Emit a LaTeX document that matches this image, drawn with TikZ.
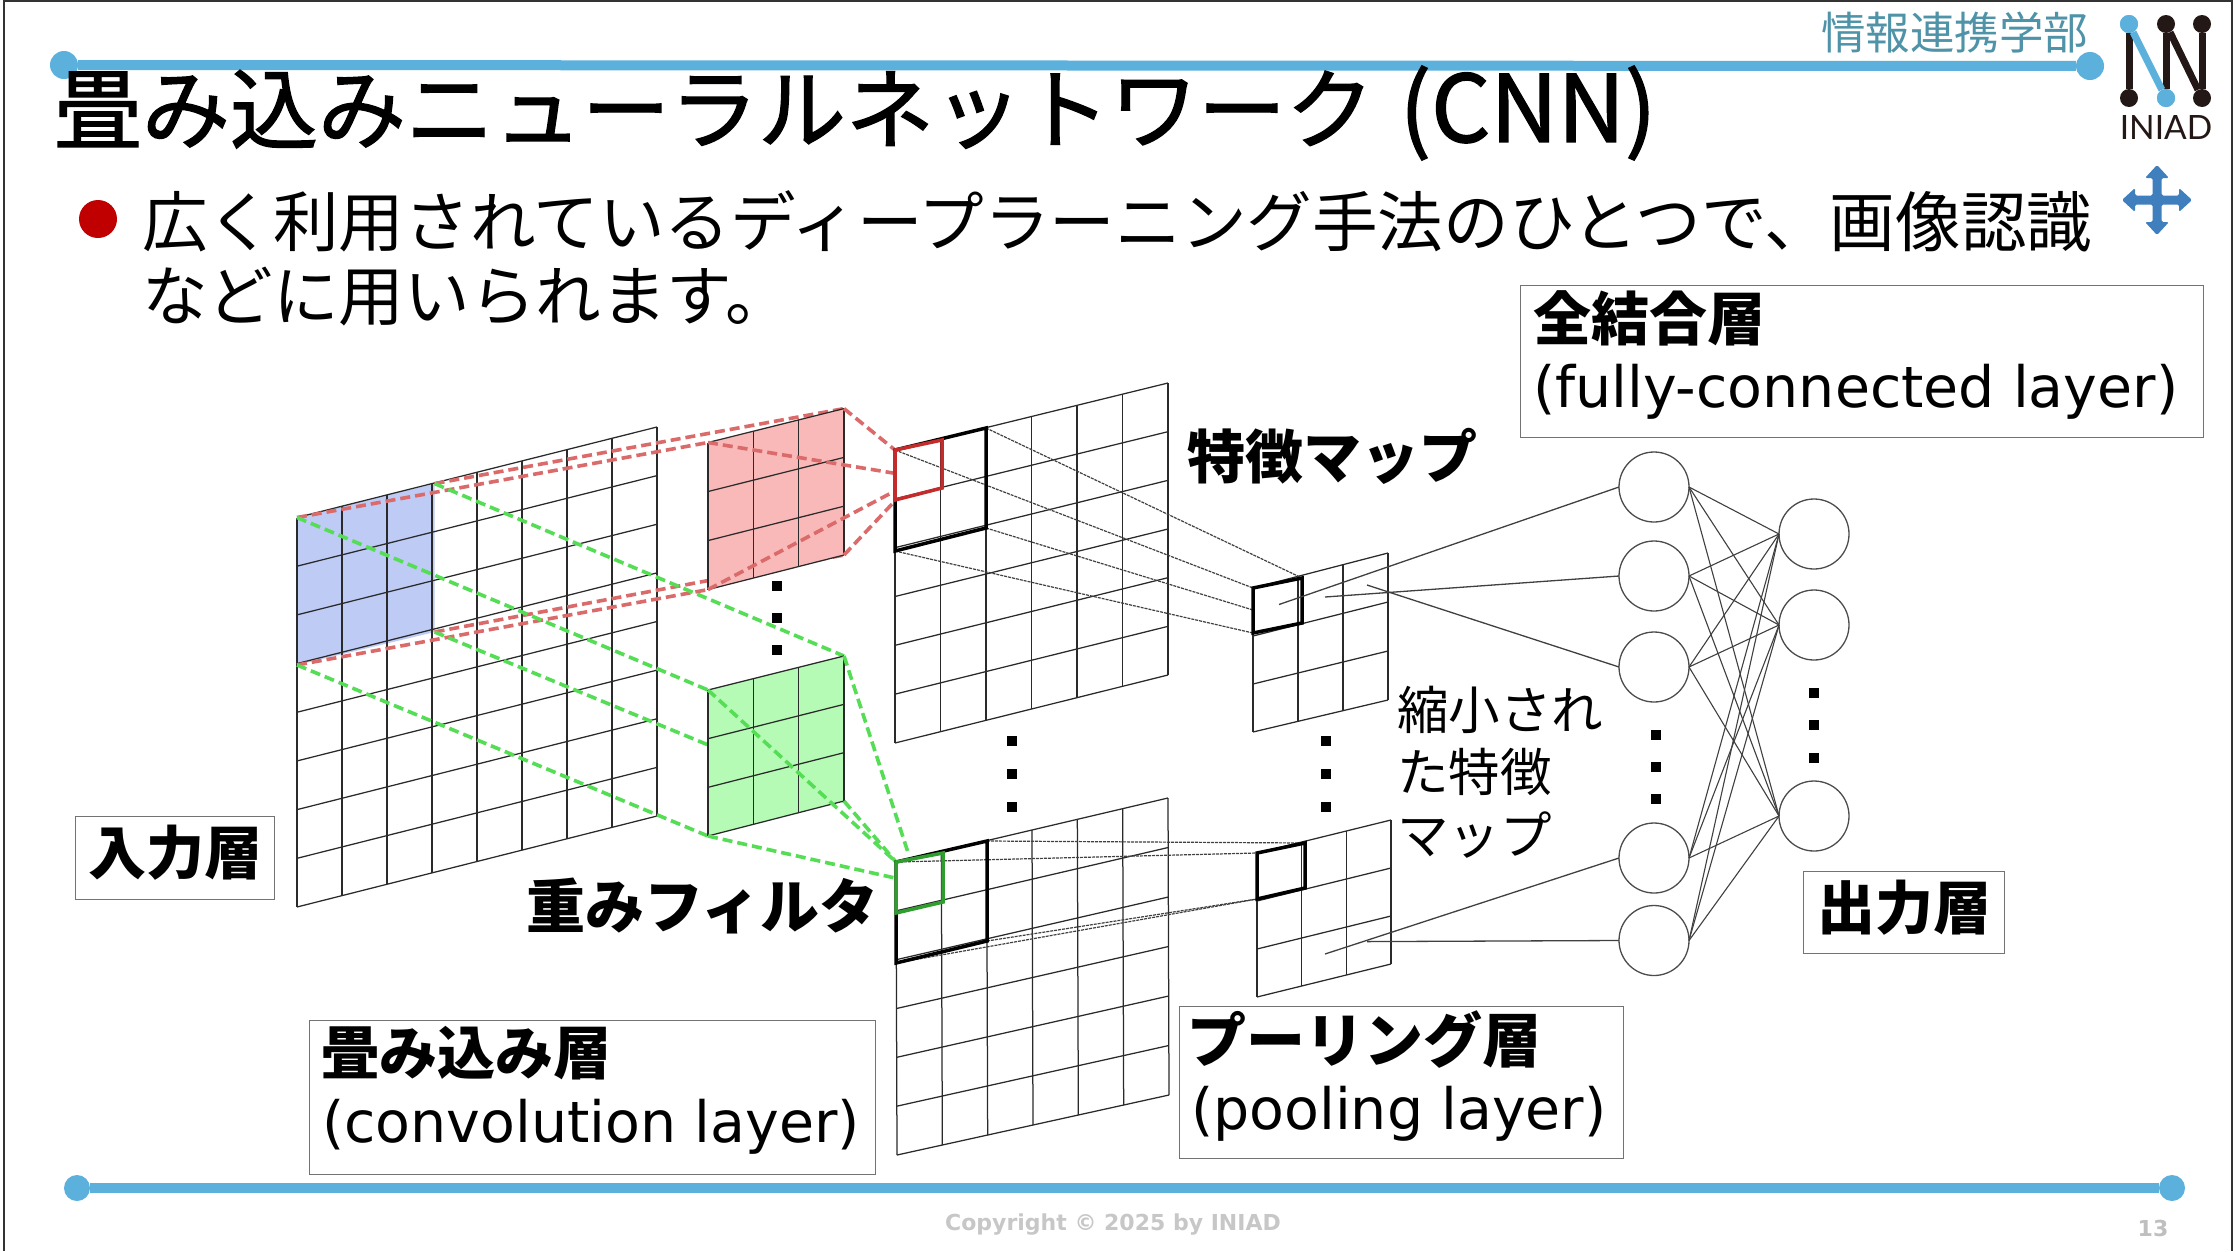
\documentclass[tikz,border=0pt]{standalone}
\usepackage{fontspec}
\usetikzlibrary{calc}
\newfontfamily\jpf{Noto Sans CJK JP}
\newfontfamily\jpt[FakeBold=1.5]{Noto Sans CJK JP}
\newfontfamily\lat{DejaVu Sans}
\newfontfamily\lato{Lato}
\definecolor{barblue}{HTML}{5BB0DC}
\definecolor{redd}{HTML}{DB6A6A}
\definecolor{grnd}{HTML}{55DD55}
\definecolor{redbox}{HTML}{C42B2B}
\definecolor{grnbox}{HTML}{2F9E2F}
\definecolor{grid}{HTML}{2A2A2A}
\definecolor{teal0}{HTML}{4F93A8}
\definecolor{logoblk}{HTML}{231815}
\definecolor{movearr}{HTML}{3F7FBE}
\definecolor{bulred}{HTML}{C00000}
\definecolor{fillb}{HTML}{BDCBF5}
\definecolor{fillr}{HTML}{F9B9B9}
\definecolor{fillg}{HTML}{B5FAB5}
\newcommand{\fs}[1]{\fontsize{#1}{#1}\selectfont}
\newcommand{\gridq}[6]{%
  \foreach \gi in {0,...,#5}{\draw[gridline] ($(#1)!\gi/#5!(#2)$) -- ($(#4)!\gi/#5!(#3)$);}
  \foreach \gj in {0,...,#6}{\draw[gridline] ($(#1)!\gj/#6!(#4)$) -- ($(#2)!\gj/#6!(#3)$);}
}
\tikzset{
  x=1pt,y=-1pt,
  gridline/.style={draw=grid,line width=1.25pt},
  reddash/.style={draw=redd,line width=3.6pt,dash pattern=on 10pt off 5pt},
  grndash/.style={draw=grnd,line width=3.6pt,dash pattern=on 10pt off 5pt},
  thindash/.style={draw=black!75,line width=1.2pt,dash pattern=on 3pt off 1pt},
  thick box/.style={draw=black,line width=3.5pt,line join=miter},
  txt/.style={inner sep=0pt,outer sep=0pt,text=black,font=\jpf},
  lbl/.style={txt,anchor=west},
  frame box/.style={draw=black!55,line width=1.2pt,fill=white},
  neuron/.style={circle,draw=black!70,line width=1.3pt,fill=white,minimum size=70pt,inner sep=0pt,outer sep=0pt},
  wire/.style={draw=black!75,line width=1.3pt},
  vdot/.style={fill=black,minimum width=10pt,minimum height=10pt,inner sep=0pt},
  bar/.style={draw=barblue,line width=10pt},
  bardot/.style={circle,fill=barblue,minimum size=28pt,inner sep=0pt},
  logoline/.style={draw=logoblk,line width=7pt},
  logodot/.style={circle,fill=logoblk,minimum size=18pt,inner sep=0pt},
  logodotb/.style={circle,fill=barblue,minimum size=18pt,inner sep=0pt},
}
\begin{document}
\begin{tikzpicture}
\useasboundingbox (0,0) rectangle (2235,1251);
\fill[white] (0,0) rectangle (2235,1251);
% outer edge
\draw[draw=black!80,line width=2pt] (4,1251) -- (4,1) -- (2232,1) -- (2232,1251);
% bars
\node[bardot] (tl) at (64,65) {};
\node[bardot] (tr) at (2090,66) {};
\draw[bar] (tl) -- (tr);
\node[bardot,minimum size=26pt] (bl) at (77,1188) {};
\node[bardot,minimum size=26pt] (br) at (2172,1188) {};
\draw[bar] (bl) -- (br);
% title
\node[lbl,font=\jpt] (title) at (54,113) {\fs{88}畳み込みニューラルネットワーク\hspace{6pt} \fs{93}(CNN)};
\node[lbl,text=teal0] (dept) at (1821,33) {\fs{44.5}情報連携学部};
% logo
\node[logodotb] (la) at (2129,24) {};
\node[logodot] (lb) at (2166,24) {};
\node[logodot] (lc) at (2202,24) {};
\node[logodot] (ld) at (2129,98) {};
\node[logodotb] (le) at (2166,98) {};
\node[logodot] (lf) at (2202,98) {};
\draw[logoline] (la) -- (ld);
\draw[logoline] (lb) -- (le);
\draw[logoline] (lb) -- (lf);
\draw[logoline] (lc) -- (lf);
\draw[draw=barblue,line width=7pt] (la) -- (le);
\node[logodotb] at (2129,24) {};
\node[logodotb] at (2166,98) {};
\node[txt,text=logoblk,font=\lato] (iniad) at (2166,127) {\fs{33.5}INIAD};
% move arrows
\fill[movearr,rounded corners=1.5pt] (2152.5,195.5) -- (2152.5,178) -- (2145,178) -- (2157,165) -- (2169,178) -- (2161.5,178) -- (2161.5,195.5) -- (2179,195.5) -- (2179,188) -- (2192,200) -- (2179,212) -- (2179,204.5) -- (2161.5,204.5) -- (2161.5,222) -- (2169,222) -- (2157,235) -- (2145,222) -- (2152.5,222) -- (2152.5,204.5) -- (2135,204.5) -- (2135,212) -- (2122,200) -- (2135,188) -- (2135,195.5) -- cycle;
% bullet
\node[circle,fill=bulred,minimum size=38pt,inner sep=0pt] (bul) at (98,219) {};
\node[lbl] (b1) at (142,221) {\fs{65.6}広く利用されているディープラーニング手法のひとつで、画像認識};
\node[lbl] (b2) at (142,297) {\fs{65.6}などに用いられます。};
% coordinates
\coordinate (iTL) at (297,517.5); \coordinate (iTR) at (657,427);
\coordinate (iBR) at (657,816); \coordinate (iBL) at (297,907);
\coordinate (bTL) at (297,517.5); \coordinate (bTR) at (434.6,483.6);
\coordinate (bBR) at (434.6,632); \coordinate (bBL) at (297,665);
\coordinate (rTL) at (708,442.5); \coordinate (rTR) at (844,408.6);
\coordinate (rBR) at (844,555); \coordinate (rBL) at (708,589.6);
\coordinate (gTL) at (708,690); \coordinate (gTR) at (844,656);
\coordinate (gBR) at (844,801); \coordinate (gBL) at (708,836);
\coordinate (m1TL) at (895,450); \coordinate (m1TR) at (1168,383);
\coordinate (m1BR) at (1168,675); \coordinate (m1BL) at (895,743);
\coordinate (k1TR) at (986,428); \coordinate (k1BR) at (986,528); \coordinate (k1BL) at (895,551);
\coordinate (s1TR) at (942,440); \coordinate (s1BR) at (942,488); \coordinate (s1BL) at (895,500);
\coordinate (m2TL) at (896,862); \coordinate (m2TR) at (1168,798);
\coordinate (m2BR) at (1169,1095); \coordinate (m2BL) at (897,1155);
\coordinate (k2TR) at (987,841); \coordinate (k2BR) at (987,941); \coordinate (k2BL) at (896,963);
\coordinate (s2TR) at (943,853); \coordinate (s2BR) at (943,902); \coordinate (s2BL) at (896,913);
\coordinate (p1TL) at (1253,588); \coordinate (p1TR) at (1388,553);
\coordinate (p1BR) at (1388,700); \coordinate (p1BL) at (1253,732);
\coordinate (q1TR) at (1302,578); \coordinate (q1BR) at (1302,623); \coordinate (q1BL) at (1253,633);
\coordinate (q1M) at (1253,610);
\coordinate (p2TL) at (1257,853); \coordinate (p2TR) at (1391,820);
\coordinate (p2BR) at (1391,964); \coordinate (p2BL) at (1257,997);
\coordinate (q2TR) at (1305,843); \coordinate (q2BR) at (1305,888); \coordinate (q2BL) at (1257,899);
% input
\fill[fill=fillb] (bTL) -- (bTR) -- (bBR) -- (bBL) -- cycle;
\gridq{iTL}{iTR}{iBR}{iBL}{8}{8}
% dashes to filters
\draw[reddash] (bTL) -- (rTL);
\draw[reddash] (bTR) -- (rTR);
\draw[reddash] (bBL) -- (rBL);
\draw[reddash] (bBR) -- (rBR);
\draw[grndash] (bTL) -- (gTL);
\draw[grndash] (bTR) -- (gTR);
\draw[grndash] (bBL) -- (gBL);
\draw[grndash] (bBR) -- (gBR);
% filters
\fill[fill=fillr] (rTL) -- (rTR) -- (rBR) -- (rBL) -- cycle;
\fill[fill=fillg] (gTL) -- (gTR) -- (gBR) -- (gBL) -- cycle;
\gridq{rTL}{rTR}{rBR}{rBL}{3}{3}
\gridq{gTL}{gTR}{gBR}{gBL}{3}{3}
% feature maps
\gridq{m1TL}{m1TR}{m1BR}{m1BL}{6}{6}
\gridq{m2TL}{m2TR}{m2BR}{m2BL}{6}{6}
\gridq{p1TL}{p1TR}{p1BR}{p1BL}{3}{3}
\gridq{p2TL}{p2TR}{p2BR}{p2BL}{3}{3}
% filter to map dashes
\coordinate (e1) at (895,450); \coordinate (e2) at (893,473);
\coordinate (e3) at (893,492); \coordinate (e4) at (893,503);
\draw[reddash] (rTR) -- (e1);
\draw[reddash] (rTL) -- (e2);
\draw[reddash] (rBL) -- (e3);
\draw[reddash] (rBR) -- (e4);
\coordinate (f1) at (909,855.5); \coordinate (f2) at (896,862); \coordinate (f3) at (895,878);
\draw[grndash] (gTR) -- (f1);
\draw[grndash] (gTL) -- (f2);
\draw[grndash] (gBR) -- (f2);
\draw[grndash] (gBL) -- (f3);
% thin dashes
\draw[thindash] (k1TR) -- (q1TR);
\draw[thindash] (m1TL) -- (p1TL);
\draw[thindash] (k1BR) -- (q1M);
\draw[thindash] (k1BL) -- (q1BL);
\draw[thindash] (k2TR) -- (q2TR);
\draw[thindash] (m2TL) -- (p2TL);
\draw[thindash] (k2BR) -- (q2BL);
\draw[thindash] (k2BL) -- (q2BL);
% boxes
\draw[thick box] (m1TL) -- (k1TR) -- (k1BR) -- (k1BL) -- cycle;
\draw[thick box] (m2TL) -- (k2TR) -- (k2BR) -- (k2BL) -- cycle;
\draw[thick box,draw=redbox] (m1TL) -- (s1TR) -- (s1BR) -- (s1BL) -- cycle;
\draw[thick box,draw=grnbox] (m2TL) -- (s2TR) -- (s2BR) -- (s2BL) -- cycle;
\draw[thick box] (p1TL) -- (q1TR) -- (q1BR) -- (q1BL) -- cycle;
\draw[thick box] (p2TL) -- (q2TR) -- (q2BR) -- (q2BL) -- cycle;
% neurons
\node[neuron] (c1) at (1654,487) {};
\node[neuron] (c2) at (1654,576) {};
\node[neuron] (c3) at (1654,667) {};
\node[neuron] (c4) at (1654,858) {};
\node[neuron] (c5) at (1654,940.5) {};
\node[neuron] (d1) at (1814,534) {};
\node[neuron] (d2) at (1814,625) {};
\node[neuron] (d3) at (1814,816) {};
\coordinate (w1) at (1279,604.5); \coordinate (w2) at (1325,597); \coordinate (w3) at (1367,585);
\coordinate (w4) at (1325,954); \coordinate (w5) at (1367,941.6);
\draw[wire] (w1) -- (c1.west);
\draw[wire] (w2) -- (c2.west);
\draw[wire] (w3) -- (c3.west);
\draw[wire] (w4) -- (c4.west);
\draw[wire] (w5) -- (c5.west);
\foreach \a in {c1,c2,c3,c4,c5}{\foreach \b in {d1,d2,d3}{\draw[wire,line width=1.1pt] (\a.east) -- (\b.west);}}
% dots
\foreach \dx/\dy [count=\n] in {777/586,777/618,777/650,1012/741,1012/774,1012/806.5,1326/741,1326/774,1326/806.5,1656/734.6,1656/767,1656/799,1814/693,1814/725,1814/758}{
  \node[vdot] (dot\n) at (\dx,\dy) {};
}
% label boxes
\node[frame box,minimum width=683pt,minimum height=152pt,anchor=north west,inner sep=0pt] (bfc) at (1520,285) {};
\node[lbl,font=\jpf\bfseries] (tfc) at (1533,318) {\fs{58}全結合層};
\node[lbl,font=\lat] (tfc2) at (1533,392) {\fs{57}(fully-connected layer)};
\node[frame box,minimum width=566pt,minimum height=154pt,anchor=north west,inner sep=0pt] (bcv) at (309,1020) {};
\node[lbl,font=\jpf\bfseries] (tcv) at (321,1053) {\fs{58}畳み込み層};
\node[lbl,font=\lat] (tcv2) at (322,1127) {\fs{57}(convolution layer)};
\node[frame box,minimum width=444pt,minimum height=152pt,anchor=north west,inner sep=0pt] (bpl) at (1179,1006) {};
\node[lbl,font=\jpf\bfseries] (tpl) at (1187,1040) {\fs{59}プーリング層};
\node[lbl,font=\lat] (tpl2) at (1191,1114) {\fs{57}(pooling layer)};
\node[frame box,minimum width=199pt,minimum height=83pt,anchor=north west,inner sep=0pt] (bin) at (75,816) {};
\node[txt,font=\jpf\bfseries,yshift=5pt] (tin) at (bin.center) {\fs{58}入力層};
\node[frame box,minimum width=201pt,minimum height=82pt,anchor=north west,inner sep=0pt] (bout) at (1803,871) {};
\node[txt,font=\jpf\bfseries,yshift=5pt] (tout) at (bout.center) {\fs{58}出力層};
\node[lbl,font=\jpf\bfseries] (tfm) at (1187,456) {\fs{58}特徴マップ};
\node[lbl,font=\jpf\bfseries] (tw) at (526,906) {\fs{59}重みフィルタ};
\node[lbl] (r1) at (1397,710) {\fs{51.5}縮小され};
\node[lbl] (r2) at (1397,772) {\fs{51.5}た特徴};
\node[lbl] (r3) at (1397,835) {\fs{51.5}マップ};
% footer
\node[txt,font=\lat\bfseries,text=black!22] (copy) at (1113,1224) {\fs{22}Copyright © 2025 by INIAD};
\node[txt,font=\lat\bfseries,text=black!25] (pg) at (2153,1228) {\fs{22}13};
\end{tikzpicture}
\end{document}
